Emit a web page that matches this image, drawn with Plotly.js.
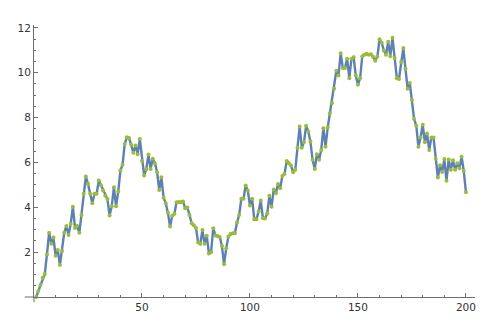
<!DOCTYPE html>
<html>
<head>
<meta charset="utf-8">
<script src="https://cdn.plot.ly/plotly-3.0.1.min.js"></script>
<style>html,body{margin:0;padding:0;background:#fff;}#chart{width:500px;height:328px;}</style>
</head>
<body>
<div id="chart"></div>
<script>
const steps = Array.from({length: 200}, (_, i) => i + 1);
const walk = [
  0.0, 0.27, 0.54, 0.86, 1.03, 1.9, 2.87, 2.37, 2.65, 1.84,
  2.1, 1.43, 2.05, 2.86, 3.17, 2.77, 3.26, 4.03, 3.08, 3.17,
  2.86, 3.66, 4.6, 5.37, 5.05, 4.6, 4.18, 4.6, 4.6, 5.2,
  4.98, 4.75, 4.52, 4.37, 3.63, 4.05, 4.89, 4.05, 4.7, 5.64,
  5.9, 6.82, 7.12, 7.09, 6.79, 6.43, 6.76, 6.37, 7.05, 6.07,
  5.42, 5.7, 6.36, 5.71, 6.16, 5.96, 5.56, 4.77, 5.34, 4.43,
  4.18, 3.76, 3.14, 3.62, 3.71, 4.23, 4.23, 4.23, 4.26, 3.96,
  3.99, 3.66, 3.29, 3.2, 3.08, 2.43, 2.37, 2.99, 2.37, 2.73,
  1.94, 2.0, 3.07, 2.74, 2.72, 2.68, 2.29, 1.46, 2.17, 2.69,
  2.81, 2.84, 2.84, 3.32, 3.66, 4.38, 4.38, 4.97, 4.75, 4.08,
  4.38, 3.47, 3.47, 3.81, 4.3, 3.51, 3.5, 3.72, 4.52, 4.02,
  4.79, 4.63, 5.04, 4.85, 5.4, 5.48, 6.07, 5.97, 5.86, 5.56,
  5.68, 6.66, 7.6, 6.66, 6.9, 7.64, 7.38, 6.93, 6.12, 5.71,
  6.37, 6.12, 6.56, 7.53, 6.7, 7.56, 8.2, 8.65, 9.29, 10.09,
  9.88, 10.87, 10.21, 10.21, 10.63, 9.76, 10.63, 10.69, 9.88, 9.46,
  9.76, 10.74, 10.8, 10.85, 10.8, 10.83, 10.71, 10.54, 10.72, 11.49,
  11.34, 10.99, 10.8, 11.38, 10.74, 11.56, 10.66, 9.76, 9.72, 10.48,
  11.1, 10.18, 9.29, 9.54, 8.79, 7.94, 7.64, 6.7, 7.11, 7.68,
  6.9, 7.29, 6.55, 7.11, 7.11, 6.16, 5.33, 5.87, 5.57, 6.15,
  5.18, 6.13, 5.67, 6.1, 5.67, 5.96, 5.74, 6.26, 5.62, 4.67
];
const xTickVals = [50, 100, 150, 200];
const yTickVals = [2, 4, 6, 8, 10, 12];

const axisColor = '#6e6e6e';
const labelFont = {family: 'DejaVu Sans, sans-serif', size: 10.5, color: '#333333'};

const trace = {
  x: steps, y: walk, type: 'scatter', mode: 'lines+markers',
  line: {color: 'rgb(94,129,181)', width: 2.4},
  marker: {color: 'rgb(155,188,55)', size: 4},
  cliponaxis: false, hoverinfo: 'skip'
};

const layout = {
  width: 500, height: 328,
  margin: {l: 34, r: 25, t: 25, b: 31},
  paper_bgcolor: '#ffffff', plot_bgcolor: '#ffffff',
  showlegend: false,
  xaxis: {
    range: [0, 204.2], showgrid: false, zeroline: false,
    showline: true, linecolor: axisColor, linewidth: 1,
    ticks: 'inside', ticklen: 4, tickcolor: axisColor,
    tickmode: 'array', tickvals: xTickVals, ticktext: xTickVals.map(String),
    minor: {tickmode: 'linear', tick0: 0, dtick: 10, ticks: 'inside', ticklen: 2, tickcolor: axisColor, showgrid: false},
    tickfont: labelFont
  },
  yaxis: {
    range: [0, 12.13], showgrid: false, zeroline: false,
    showline: true, linecolor: axisColor, linewidth: 1,
    ticks: 'inside', ticklen: 4, tickcolor: axisColor,
    tickmode: 'array', tickvals: yTickVals, ticktext: yTickVals.map(String),
    minor: {tickmode: 'linear', tick0: 0, dtick: 0.5, ticks: 'inside', ticklen: 2, tickcolor: axisColor, showgrid: false},
    tickfont: labelFont
  },
  shapes: [
    {type: 'line', xref: 'paper', yref: 'paper', x0: -0.021, x1: 0, y0: 0, y1: 0, line: {color: axisColor, width: 1}, layer: 'below'},
    {type: 'line', xref: 'paper', yref: 'paper', x0: 0, x1: 0, y0: -0.019, y1: 0, line: {color: axisColor, width: 1}, layer: 'below'}
  ]
};

Plotly.newPlot('chart', [trace], layout, {staticPlot: true, displayModeBar: false});
</script>
</body>
</html>
